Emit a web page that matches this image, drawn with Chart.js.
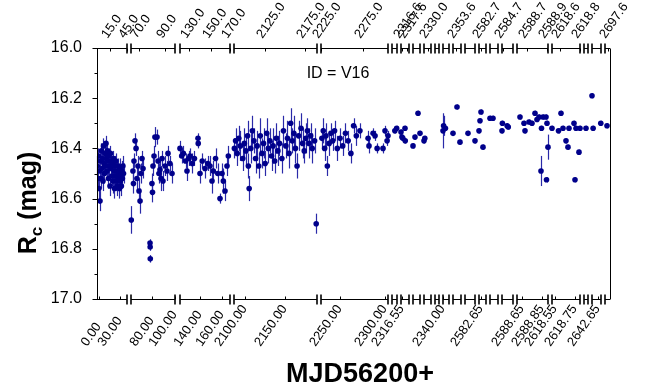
<!DOCTYPE html>
<html>
<head>
<meta charset="utf-8">
<script src="https://cdn.jsdelivr.net/npm/chart.js@4.4.0/dist/chart.umd.min.js"></script>
<style>
  html, body { margin: 0; padding: 0; background: #fff; }
  #wrap { width: 645px; height: 389px; position: relative; }
</style>
</head>
<body>
<div id="wrap"><canvas id="lc"></canvas></div>
<script>
// broken time axis: each piece covers [segStart, segEnd] in MJD56200+
const segStart = [-3, 64, 122, 2086, 2229, 2305, 2316.3, 2320, 2327, 2335, 2339.8,
    2352, 2570, 2582.5, 2583.5, 2584.6, 2588.6, 2618.52, 2625, 2640, 2695];
const segEnd = [40, 98, 167, 2190, 2303, 2312, 2318.0, 2326, 2333, 2338, 2346,
    2356, 2580, 2583.2, 2584.3, 2586, 2588.91, 2618.8, 2630, 2644, 2700];
// where each piece sits along the drawn axis (axis units, 0..513)
const segFrom = [0, 34, 83, 137, 224, 295, 304, 316, 327, 338, 346, 356, 368, 382, 393, 405, 420, 455, 487, 495, 508];
const segTo = [30, 78, 133, 220, 291, 300, 312, 323, 334, 342, 352, 364, 378, 389, 401, 416, 451, 483, 491, 504, 513];

const bottomTicks = [0, 30, 80, 100, 140, 160, 2100, 2150, 2250, 2300, 2316.55, 2340,
    2582.65, 2588.65, 2588.85, 2618.55, 2618.75, 2642.65];
const topTicks = [15, 45, 70, 90, 130, 150, 170, 2125, 2175, 2225, 2275, 2316.6, 2317.6,
    2330, 2353.6, 2582.7, 2584.7, 2588.7, 2588.9, 2618.6, 2618.8, 2697.6];

const magTicks = [16.0, 16.2, 16.4, 16.6, 16.8, 17.0];

// V16 light curve: [MJD56200+, Rc, error]
const obs = [
    // first season, start
    [-2.5, 16.47, 0.04], [-1.6, 16.52, 0.04], [-1.0, 16.43, 0.03], [-0.2, 16.56, 0.05],
    [0.6, 16.49, 0.04], [1.3, 16.61, 0.04], [2.0, 16.45, 0.03], [2.7, 16.52, 0.04],
    [3.4, 16.41, 0.03], [4.1, 16.48, 0.04], [4.8, 16.44, 0.03], [5.6, 16.53, 0.04],
    [6.3, 16.39, 0.03], [7.0, 16.46, 0.03], [7.7, 16.50, 0.04], [8.4, 16.42, 0.03],
    [9.1, 16.47, 0.04], [9.9, 16.38, 0.03], [10.6, 16.44, 0.03], [11.3, 16.49, 0.04],
    [12.0, 16.41, 0.03], [12.7, 16.45, 0.03], [13.4, 16.52, 0.04], [14.1, 16.43, 0.03],
    [14.9, 16.47, 0.04], [15.6, 16.55, 0.04], [16.3, 16.42, 0.03], [17.0, 16.48, 0.04],
    [17.7, 16.45, 0.03], [18.4, 16.51, 0.04], [19.2, 16.46, 0.03], [19.9, 16.53, 0.05],
    [20.6, 16.44, 0.03], [21.3, 16.49, 0.04], [22.0, 16.56, 0.04], [22.7, 16.47, 0.04],
    [23.4, 16.51, 0.04], [24.1, 16.45, 0.03], [24.9, 16.53, 0.04], [25.6, 16.49, 0.04],
    [26.3, 16.55, 0.04], [27.0, 16.47, 0.03], [27.7, 16.52, 0.04], [28.4, 16.50, 0.04],
    [29.2, 16.56, 0.04], [29.9, 16.48, 0.04], [30.6, 16.53, 0.04], [31.3, 16.51, 0.04],
    [32.0, 16.55, 0.04], [32.7, 16.49, 0.04], [33.4, 16.52, 0.04], [34.1, 16.47, 0.04],
    [35.0, 16.50, 0.04],
    // 64..98
    [64.2, 16.685, 0.055], [65.5, 16.49, 0.04], [65.9, 16.54, 0.04], [66.3, 16.45, 0.03],
    [67.1, 16.37, 0.03], [67.9, 16.40, 0.03], [68.6, 16.52, 0.05], [69.4, 16.47, 0.04],
    [70.2, 16.57, 0.05], [71.0, 16.61, 0.05], [71.7, 16.50, 0.04], [72.5, 16.44, 0.03],
    [73.3, 16.48, 0.04], [78.7, 16.777, 0.015], [78.8, 16.793, 0.015], [78.9, 16.84, 0.015],
    [80.2, 16.54, 0.04], [80.6, 16.575, 0.04], [81.0, 16.47, 0.04], [81.8, 16.43, 0.04],
    [82.5, 16.355, 0.04], [84.1, 16.355, 0.03], [84.9, 16.45, 0.04], [85.6, 16.50, 0.04],
    [86.4, 16.485, 0.04], [87.2, 16.52, 0.05], [88.0, 16.44, 0.03], [88.7, 16.53, 0.04],
    [90.3, 16.47, 0.04], [91.8, 16.49, 0.04], [92.6, 16.42, 0.03], [94.1, 16.46, 0.03],
    [95.7, 16.50, 0.04],
    // 122..167
    [122.0, 16.40, 0.03], [123.5, 16.43, 0.03], [125.0, 16.42, 0.03], [127.0, 16.45, 0.03],
    [128.3, 16.49, 0.04], [130.0, 16.44, 0.03], [131.0, 16.43, 0.03], [133.0, 16.46, 0.04],
    [135.0, 16.44, 0.03], [138.2, 16.36, 0.02], [138.4, 16.38, 0.02], [140.0, 16.50, 0.04],
    [142.0, 16.45, 0.03], [144.5, 16.48, 0.04], [147.0, 16.46, 0.03], [149.0, 16.47, 0.04],
    [150.8, 16.53, 0.05], [152.0, 16.49, 0.04], [154.0, 16.44, 0.04], [156.0, 16.50, 0.04],
    [158.0, 16.60, 0.02], [159.8, 16.50, 0.04], [161.0, 16.53, 0.05], [162.5, 16.57, 0.04],
    [164.3, 16.47, 0.04], [165.5, 16.43, 0.04],
    // second season
    [2086.5, 16.40, 0.04], [2088, 16.37, 0.05], [2090, 16.42, 0.05], [2092, 16.36, 0.05],
    [2094, 16.39, 0.06], [2097, 16.44, 0.05], [2099, 16.38, 0.06], [2101, 16.41, 0.06],
    [2103, 16.35, 0.06], [2104, 16.47, 0.05], [2105, 16.56, 0.05], [2107, 16.40, 0.06],
    [2109, 16.33, 0.06], [2111, 16.37, 0.05], [2113, 16.44, 0.06], [2115, 16.39, 0.06],
    [2117, 16.47, 0.05], [2119, 16.35, 0.07], [2121, 16.42, 0.06], [2123, 16.38, 0.06],
    [2125, 16.46, 0.05], [2127, 16.34, 0.06], [2129, 16.40, 0.06], [2131, 16.37, 0.05],
    [2133, 16.43, 0.06], [2135, 16.39, 0.07], [2137, 16.45, 0.05], [2139, 16.36, 0.06],
    [2141, 16.41, 0.06], [2143, 16.38, 0.05], [2146, 16.44, 0.06], [2148, 16.33, 0.06],
    [2151, 16.39, 0.05], [2153, 16.36, 0.07], [2155, 16.42, 0.06], [2157, 16.30, 0.06],
    [2159, 16.37, 0.05], [2161, 16.34, 0.07], [2163, 16.40, 0.06], [2165, 16.47, 0.05],
    [2167, 16.35, 0.06], [2170, 16.32, 0.06], [2172, 16.38, 0.06], [2174, 16.41, 0.05],
    [2176, 16.36, 0.06], [2178, 16.33, 0.05], [2180, 16.38, 0.06], [2182, 16.35, 0.05],
    [2184, 16.40, 0.06], [2187, 16.37, 0.05], [2189, 16.70, 0.04],
    [2230, 16.36, 0.04], [2231.5, 16.33, 0.05], [2233, 16.40, 0.05], [2234.5, 16.35, 0.05],
    [2236, 16.47, 0.04], [2238, 16.38, 0.05], [2240, 16.34, 0.04], [2242, 16.37, 0.04],
    [2244, 16.33, 0.04], [2247, 16.40, 0.05], [2250, 16.36, 0.04], [2253, 16.39, 0.04],
    [2256, 16.34, 0.04], [2259, 16.37, 0.04], [2262, 16.42, 0.04], [2265, 16.31, 0.03],
    [2268, 16.35, 0.04], [2272, 16.33, 0.03], [2281, 16.36, 0.03], [2282, 16.39, 0.03],
    [2286.5, 16.34, 0.02], [2288.7, 16.35, 0.02], [2291, 16.40, 0.02], [2297.5, 16.40, 0.02],
    [2299.7, 16.33, 0.02], [2302, 16.37, 0.02], [2303, 16.35, 0.02],
    [2309, 16.33, 0.01], [2311.5, 16.32, 0.01],
    [2316.3, 16.335, 0.01], [2316.5, 16.355, 0.01], [2316.7, 16.36, 0.01], [2317.15, 16.32, 0.01],
    [2317.2, 16.37, 0.01],
    [2320, 16.39, 0.01], [2321.7, 16.355, 0.01], [2324.3, 16.26, 0.01], [2326, 16.34, 0.01],
    [2327, 16.37, 0.01], [2327.7, 16.36, 0.01],
    [2339.8, 16.33, 0.07], [2340.4, 16.31, 0.04], [2342.3, 16.32, 0.01],
    [2352, 16.34, 0.01], [2354, 16.235, 0.01], [2355.5, 16.375, 0.01],
    [2573, 16.34, 0.01], [2580, 16.37, 0.01],
    [2582.5, 16.33, 0.01], [2582.6, 16.29, 0.01], [2582.7, 16.255, 0.01], [2582.9, 16.395, 0.01],
    [2583.5, 16.28, 0.01], [2583.8, 16.28, 0.01],
    [2584.6, 16.33, 0.01], [2584.65, 16.30, 0.01], [2585.25, 16.31, 0.01], [2585.4, 16.315, 0.01],
    // one night, dense
    [2588.63, 16.275, 0.01], [2588.67, 16.30, 0.01], [2588.68, 16.33, 0.01], [2588.72, 16.295, 0.01],
    [2588.75, 16.30, 0.01], [2588.78, 16.26, 0.01], [2588.80, 16.285, 0.01], [2588.82, 16.275, 0.01],
    [2588.84, 16.49, 0.06], [2588.845, 16.32, 0.01], [2588.86, 16.275, 0.01], [2588.89, 16.275, 0.01],
    [2588.895, 16.525, 0.01], [2588.90, 16.30, 0.01], [2588.91, 16.395, 0.05],
    [2618.52, 16.32, 0.01], [2618.585, 16.33, 0.01], [2618.61, 16.26, 0.01], [2618.63, 16.32, 0.01],
    [2618.66, 16.37, 0.01], [2618.68, 16.395, 0.01], [2618.69, 16.32, 0.01], [2618.74, 16.30, 0.01],
    [2618.75, 16.525, 0.01], [2618.76, 16.32, 0.01], [2618.79, 16.415, 0.01], [2618.80, 16.32, 0.01],
    [2627.5, 16.32, 0.01],
    [2640, 16.19, 0.01], [2640.5, 16.32, 0.01], [2643.9, 16.30, 0.01],
    [2697, 16.31, 0.01]
];

const font = "Arial, 'Liberation Sans', sans-serif";
const ink = "#000";
const navy = "#00008b";

// MJD -> position along the broken axis
function axisPos(m) {
    let best = 0, bestD = Infinity;
    for (let i = 0; i < segStart.length; i++) {
        if (m >= segStart[i] && m <= segEnd[i]) {
            return segFrom[i] + (m - segStart[i]) / (segEnd[i] - segStart[i]) * (segTo[i] - segFrom[i]);
        }
        const d = m < segStart[i] ? segStart[i] - m : m - segEnd[i];
        if (d < bestD) { bestD = d; best = i; }
    }
    return m < segStart[best] ? segFrom[best] : segTo[best];
}

const errorBars = {
    id: "errorBars",
    beforeDatasetsDraw(chart) {
        const { ctx, scales: { x, y } } = chart;
        ctx.save();
        ctx.strokeStyle = "#2a2aa8";
        ctx.lineWidth = 1.2;
        obs.forEach(([m, v, e]) => {
            const px = Math.round(x.getPixelForValue(axisPos(m))) + 0.5;
            ctx.beginPath();
            ctx.moveTo(px, y.getPixelForValue(v - e));
            ctx.lineTo(px, y.getPixelForValue(v + e));
            ctx.stroke();
        });
        ctx.restore();
    }
};

const frame = {
    id: "frame",
    afterDraw(chart) {
        const { ctx, chartArea: a, scales: { x, y } } = chart;
        const line = (x0, y0, x1, y1) => {
            ctx.beginPath(); ctx.moveTo(x0, y0); ctx.lineTo(x1, y1); ctx.stroke();
        };
        ctx.save();
        ctx.strokeStyle = ink;
        ctx.fillStyle = ink;
        ctx.lineWidth = 1;
        const L = Math.round(a.left) + 0.5, R = Math.round(a.right) + 0.5;
        const T = Math.round(a.top) + 0.5, B = Math.round(a.bottom) + 0.5;
        line(L, T, L, B);
        line(R, T, R, B);
        for (let k = 0; k <= 10; k++) {
            const py = Math.round(y.getPixelForValue(16 + k * 0.1)) + 0.5;
            line(L - (k % 2 ? 3 : 5), py, L, py);
        }
        // axis pieces with break marks
        segFrom.forEach((f, i) => {
            const x0 = x.getPixelForValue(f), x1 = x.getPixelForValue(segTo[i]);
            ctx.lineWidth = 1;
            line(x0, T, x1, T);
            line(x0, B, x1, B);
            ctx.lineWidth = 1.6;
            if (i > 0) { line(x0, T - 5, x0, T + 5); line(x0, B - 5, x0, B + 5); }
            if (i < segFrom.length - 1) { line(x1, T - 5, x1, T + 5); line(x1, B - 5, x1, B + 5); }
        });
        ctx.lineWidth = 1;
        // tick labels, rotated
        const ang = 55 * Math.PI / 180;
        ctx.font = "13px " + font;
        ctx.textBaseline = "alphabetic";
        ctx.textAlign = "left";
        bottomTicks.forEach((v) => {
            const px = Math.round(x.getPixelForValue(axisPos(v))) + 0.5;
            line(px, B - 3, px, B);
            const s = v.toFixed(2);
            const w = ctx.measureText(s).width;
            ctx.save();
            ctx.translate(px - w * Math.cos(ang) + 2, 347);
            ctx.rotate(-ang);
            ctx.fillText(s, 0, 0);
            ctx.restore();
        });
        topTicks.forEach((v) => {
            const px = Math.round(x.getPixelForValue(axisPos(v))) + 0.5;
            line(px, T, px, T + 3);
            const s = v.toFixed(1);
            ctx.save();
            ctx.translate(px - 3, 39);
            ctx.rotate(-ang);
            ctx.fillText(s, 0, 0);
            ctx.restore();
        });
        // annotation
        ctx.font = "16px " + font;
        ctx.textAlign = "center";
        ctx.fillText("ID = V16", 338, 78);
        // axis titles
        ctx.font = "bold 27px " + font;
        ctx.fillText("MJD56200+", 360, 382);
        ctx.save();
        ctx.translate(36, 203);
        ctx.rotate(-Math.PI / 2);
        const big = "bold 25px " + font, small = "bold 17px " + font;
        ctx.font = big; const wR = ctx.measureText("R").width; const wT = ctx.measureText(" (mag)").width;
        ctx.font = small; const wc = ctx.measureText("c").width;
        let cx = -(wR + wc + wT) / 2;
        ctx.textAlign = "left";
        ctx.font = big; ctx.fillText("R", cx, 0); cx += wR;
        ctx.font = small; ctx.fillText("c", cx, 6); cx += wc;
        ctx.font = big; ctx.fillText(" (mag)", cx, 0);
        ctx.restore();
        ctx.restore();
    }
};

new Chart(document.getElementById("lc"), {
    type: "scatter",
    data: {
        datasets: [{
            data: obs.map(([m, v]) => ({ x: axisPos(m), y: v })),
            backgroundColor: navy,
            borderColor: navy,
            pointRadius: 2.8,
            pointBorderWidth: 0
        }]
    },
    options: {
        responsive: true,
        maintainAspectRatio: false,
        animation: false,
        devicePixelRatio: 1,
        layout: { padding: { left: 0, right: 35, top: 0, bottom: 0 } },
        plugins: { legend: { display: false }, tooltip: { enabled: false } },
        scales: {
            x: {
                type: "linear", position: "bottom", min: 0, max: 513,
                grid: { display: false }, border: { display: false },
                ticks: { display: false },
                afterFit: (s) => { s.height = 90; s.paddingLeft = 0; s.paddingRight = 0; }
            },
            x2: {
                type: "linear", position: "top", min: 0, max: 513,
                grid: { display: false }, border: { display: false },
                ticks: { display: false },
                afterFit: (s) => { s.height = 48; s.paddingLeft = 0; s.paddingRight = 0; }
            },
            y: {
                reverse: true, min: 16, max: 17,
                grid: { display: false }, border: { display: false },
                afterBuildTicks: (s) => { s.ticks = magTicks.map((v) => ({ value: v })); },
                ticks: {
                    padding: 7, color: ink,
                    font: { size: 16, family: font },
                    callback: (v) => Number(v).toFixed(1)
                },
                afterFit: (s) => { s.width = 97; s.paddingTop = 0; s.paddingBottom = 0; }
            }
        }
    },
    plugins: [errorBars, frame]
});
</script>
</body>
</html>
